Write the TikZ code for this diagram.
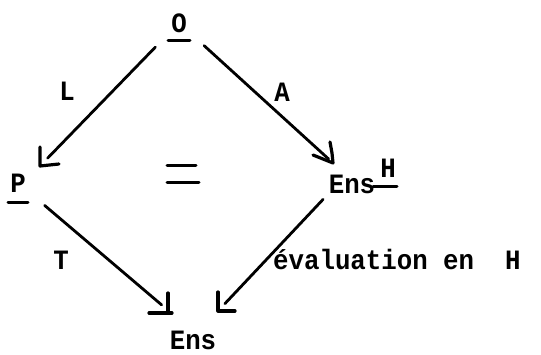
\documentclass[tikz,border=0pt]{standalone}
\usepackage{fontspec}
\newfontfamily\tw[FakeStretch=0.92]{Liberation Mono}
\begin{document}
\begin{tikzpicture}[x=1pt,y=-1pt,
  lbl/.style={inner sep=0pt, font=\tw\bfseries\fontsize{28}{30}\selectfont},
  conn/.style={line width=2.8pt, line cap=round},
  tipmark/.style={line width=3.2pt, line cap=round, line join=round},
  bar/.style={line width=3pt, line cap=round}]
\useasboundingbox (0,0) rectangle (541,354);
% objects
\node[lbl, anchor=base] (O) at (179,32) {O};
\node[lbl, anchor=base] (P) at (18,192) {P};
\node[lbl, anchor=base] (EnsH) at (352,193) {Ens};
\node[lbl, anchor=base] (Hsup) at (388,177) {H};
\node[lbl, anchor=base] (Ens) at (193,349) {Ens};
% underlines
\draw[bar] (168,40) -- (190,40);
\draw[bar] (8,202) -- (28,202);
\draw[bar] (373,186) -- (397,186);
% equality sign
\draw[bar] (167,165) -- (196,165);
\draw[bar] (167,182) -- (199,182);
% arrow tip corners
\coordinate (cL) at (40,166);
\coordinate (cA) at (333,163);
\coordinate (cT) at (170,312);
\coordinate (cE) at (218,311);
% connectors
\draw[conn, shorten <=34pt, shorten >=11pt] (O.center) -- (cL);
\draw[conn, shorten <=34pt, shorten >=6pt] (O.center) -- (cA);
\draw[conn, shorten <=35pt, shorten >=11pt] (P.center) -- (cT);
\draw[conn, shorten <=8pt, shorten >=10pt] (EnsH.south west) -- (cE);
% hand-drawn heads
\draw[tipmark] (40,147) -- (cL) -- (59,164);
\draw[tipmark] (330,142) -- (332,153) -- (cA) -- (313,155);
\draw[tipmark] (168,293) -- (168,313);
\draw[tipmark] (149,313) -- (172,313);
\draw[tipmark] (218,292) -- (cE) -- (235,311);
% labels
\node[lbl, anchor=base] (lL) at (67,100) {L};
\node[lbl, anchor=base] (lA) at (282,101) {A};
\node[lbl, anchor=base] (lT) at (61,269) {T};
\node[lbl, anchor=base west] (lE) at (273,269) {évaluation en\ \ H};
\end{tikzpicture}
\end{document}
